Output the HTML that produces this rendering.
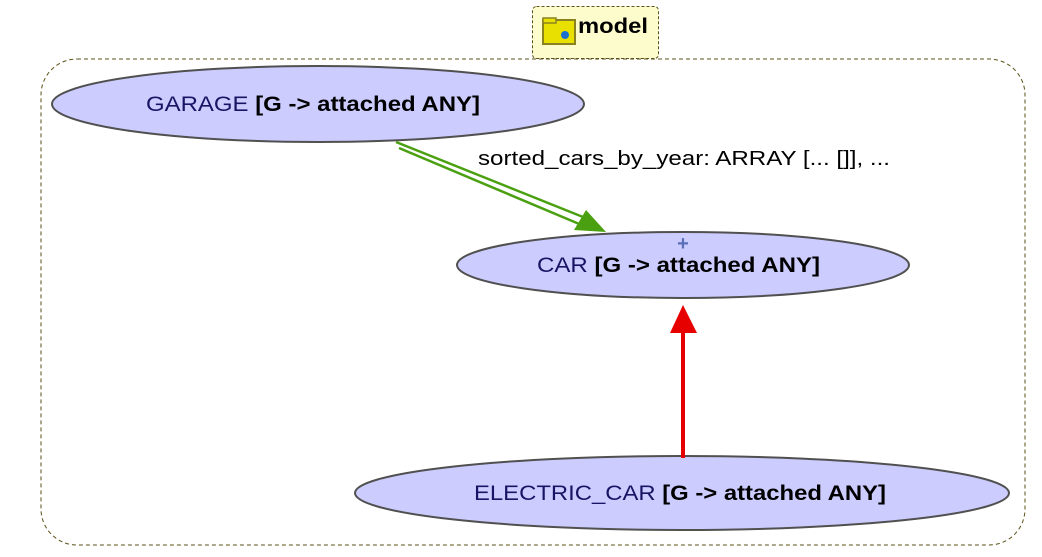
<!DOCTYPE html>
<html><head><style>
html,body{margin:0;padding:0;background:#fff;}
svg{display:block;font-family:"Liberation Sans",sans-serif;}
</style></head><body>
<svg width="1042" height="557" viewBox="0 0 1042 557" xmlns="http://www.w3.org/2000/svg">
<rect x="41" y="59" width="984" height="486" rx="36" ry="36" fill="none" stroke="#5b5218" stroke-width="1" stroke-dasharray="4,3"/>
<rect x="532.5" y="6.5" width="126" height="52" rx="4" fill="#fdfccc" stroke="#5b5218" stroke-dasharray="3,2"/>
<rect x="543" y="20" width="32" height="24" fill="#e8e000" stroke="#8a8220" stroke-width="2"/>
<rect x="543" y="18" width="13" height="5" fill="#e8e000" stroke="#8a8220" stroke-width="1.5"/>
<circle cx="565" cy="35" r="4" fill="#1a6fd0"/>
<text x="578" y="33" font-size="21" font-weight="bold" fill="#000" textLength="70" lengthAdjust="spacingAndGlyphs">model</text>
<ellipse cx="318" cy="104" rx="266" ry="38" fill="#ccccff" stroke="#505050" stroke-width="2"/>
<text x="146" y="111" font-size="21" textLength="334" lengthAdjust="spacingAndGlyphs"><tspan fill="#1a1464">GARAGE </tspan><tspan font-weight="bold" fill="#000">[G -&gt; attached ANY]</tspan></text>
<ellipse cx="683" cy="265" rx="226" ry="33" fill="#ccccff" stroke="#505050" stroke-width="2"/>
<text x="537" y="272" font-size="21" textLength="283" lengthAdjust="spacingAndGlyphs"><tspan fill="#1a1464">CAR </tspan><tspan font-weight="bold" fill="#000">[G -&gt; attached ANY]</tspan></text>
<text x="683" y="250" font-size="20" fill="#5a6fb8" text-anchor="middle" font-weight="bold">+</text>
<ellipse cx="682" cy="493" rx="327" ry="37" fill="#ccccff" stroke="#505050" stroke-width="2"/>
<text x="474" y="500" font-size="21" textLength="412" lengthAdjust="spacingAndGlyphs"><tspan fill="#1a1464">ELECTRIC_CAR </tspan><tspan font-weight="bold" fill="#000">[G -&gt; attached ANY]</tspan></text>
<line x1="396" y1="142" x2="588" y2="219" stroke="#4aa010" stroke-width="2.5"/>
<line x1="399" y1="148" x2="584" y2="226" stroke="#4aa010" stroke-width="2.5"/>
<polygon points="606,232 574,230 586,210" fill="#4aa010"/>
<text x="478" y="165" font-size="20" fill="#000" textLength="412" lengthAdjust="spacingAndGlyphs">sorted_cars_by_year: ARRAY [... []], ...</text>
<line x1="683" y1="458" x2="683" y2="330" stroke="#e60000" stroke-width="4"/>
<polygon points="683,305 670,333 697,333" fill="#e60000"/>
</svg>
</body></html>
